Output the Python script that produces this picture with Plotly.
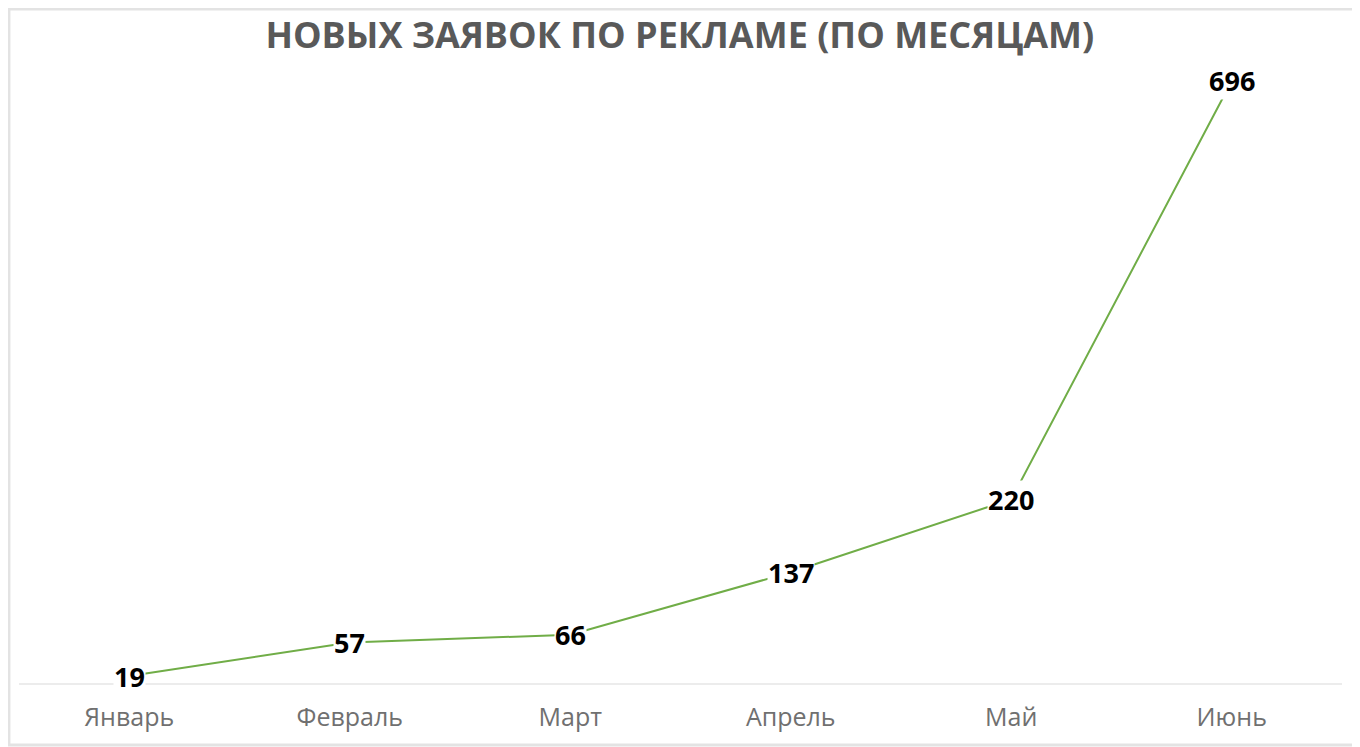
import plotly.graph_objects as go

# Данные по месяцам
months = ["Январь", "Февраль", "Март", "Апрель", "Май", "Июнь"]
leads = [19, 57, 66, 137, 220, 696]

title_text = "НОВЫХ ЗАЯВОК ПО РЕКЛАМЕ (ПО МЕСЯЦАМ)"

FONT = "Open Sans"

fig = go.Figure()

fig.add_trace(go.Scatter(
    x=months,
    y=leads,
    mode="lines",
    line=dict(color="#70ad47", width=2),
    hoverinfo="x+y",
    showlegend=False,
))

# подписи значений на белом фоне, как в исходной диаграмме
for m, v in zip(months, leads):
    fig.add_annotation(
        x=m, y=v, xref="x", yref="y",
        text=str(v),
        showarrow=False,
        bgcolor="white",
        borderpad=0,
        font=dict(family=FONT, size=27, color="#000000", weight="bold"),
    )

# рамка вокруг всей картинки
fig.add_shape(
    type="rect", xref="paper", yref="paper",
    x0=-0.0076, x1=1.0121, y0=-0.0978, y1=1.0817,
    line=dict(color="#e3e3e3", width=3),
    layer="below",
)

fig.update_layout(
    width=1360,
    height=747,
    margin=dict(l=11, r=26, t=52, b=71),
    paper_bgcolor="white",
    plot_bgcolor="white",
    title=dict(
        text=title_text,
        x=0.494,
        xanchor="center",
        y=1 - 27 / 747,
        yanchor="middle",
        font=dict(family=FONT, size=36, color="#595959", weight="bold"),
    ),
    xaxis=dict(
        type="category",
        range=[-0.5, 5.5],
        showgrid=False,
        showline=False,
        zeroline=False,
        ticks="",
        tickfont=dict(family=FONT, size=25, color="#707070"),
        ticklabelstandoff=16,
    ),
    yaxis=dict(
        range=[9.9, 719.8],
        showgrid=False,
        showticklabels=False,
        zeroline=False,
        showline=False,
    ),
)

# базовая линия оси X
fig.add_shape(
    type="line", xref="paper", yref="paper",
    x0=0, x1=1, y0=0, y1=0,
    line=dict(color="#d9d9d9", width=1),
)

fig.write_html("out.html")
